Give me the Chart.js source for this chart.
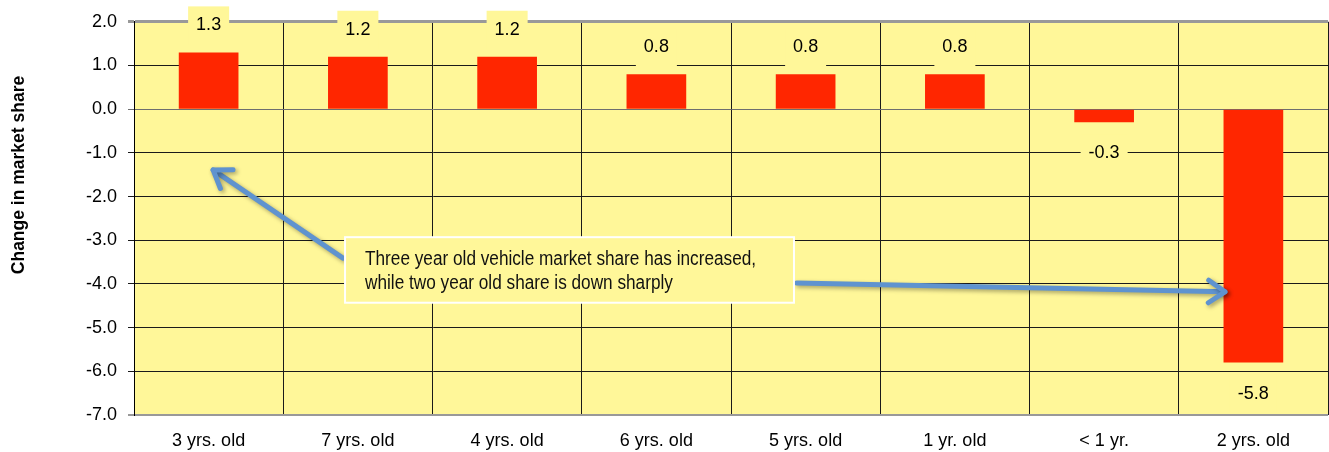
<!DOCTYPE html>
<html>
<head>
<meta charset="utf-8">
<script src="https://cdn.jsdelivr.net/npm/chart.js@4.4.1/dist/chart.umd.min.js"></script>
<style>
  html, body { margin: 0; padding: 0; background: #fff; }
  #wrap { width: 1329px; height: 452px; }
</style>
</head>
<body>
<div id="wrap"><canvas id="chart"></canvas></div>
<script>
// values
const categories = ['3 yrs. old', '7 yrs. old', '4 yrs. old', '6 yrs. old', '5 yrs. old', '1 yr. old', '< 1 yr.', '2 yrs. old'];
const shareChange = [1.3, 1.2, 1.2, 0.8, 0.8, 0.8, -0.3, -5.8];
const yTitle = 'Change in market share';
const noteLines = ['Three year old vehicle market share has increased,', 'while two year old share is down sharply'];

// note box and arrows, in data units (category index, share value)
const noteBox = { x0: 0.914, x1: 3.922, y0: -2.93, y1: -4.43 };
const arrows = [
    { from: [0.90, -3.41], to: [0.03, -1.39] },
    { from: [3.94, -3.98], to: [6.81, -4.18] }
];

const plotYellow = '#fff799';
const mainFont = '"Liberation Sans", Arial, sans-serif';

const backgroundPlugin = {
    id: 'plotBg',
    beforeDraw(chart) {
        const { ctx, chartArea: a } = chart;
        ctx.save();
        ctx.fillStyle = plotYellow;
        ctx.fillRect(a.left, a.top, a.right - a.left, a.bottom - a.top);
        ctx.restore();
    }
};

const labelPlugin = {
    id: 'barLabels',
    afterDatasetsDraw(chart) {
        const { ctx } = chart;
        const meta = chart.getDatasetMeta(0);
        ctx.save();
        ctx.font = '18px ' + mainFont;
        ctx.textAlign = 'center';
        ctx.textBaseline = 'middle';
        meta.data.forEach((bar, i) => {
            const v = shareChange[i];
            const txt = v.toFixed(1);
            const y = v >= 0 ? bar.y - 27 : bar.y + 31;
            const w = ctx.measureText(txt).width + 16;
            ctx.fillStyle = plotYellow;
            ctx.fillRect(bar.x - w / 2, y - 19, w, 38);
            ctx.fillStyle = '#000';
            ctx.fillText(txt, bar.x, y);
        });
        ctx.restore();
    }
};

function drawArrow(ctx, x1, y1, x2, y2) {
    const ang = Math.atan2(y2 - y1, x2 - x1);
    const arm = 20, spread = 0.6;
    ctx.beginPath();
    ctx.moveTo(x1, y1);
    ctx.lineTo(x2, y2);
    ctx.stroke();
    ctx.beginPath();
    ctx.moveTo(x2 - arm * Math.cos(ang - spread), y2 - arm * Math.sin(ang - spread));
    ctx.lineTo(x2, y2);
    ctx.lineTo(x2 - arm * Math.cos(ang + spread), y2 - arm * Math.sin(ang + spread));
    ctx.stroke();
}

const notePlugin = {
    id: 'note',
    afterDraw(chart) {
        const { ctx } = chart;
        const xs = chart.scales.x, ys = chart.scales.y;
        ctx.save();
        // arrows
        ctx.strokeStyle = '#5f93cf';
        ctx.lineWidth = 5;
        ctx.lineCap = 'round';
        ctx.lineJoin = 'round';
        ctx.shadowColor = 'rgba(0,0,0,0.35)';
        ctx.shadowBlur = 4;
        ctx.shadowOffsetX = 2;
        ctx.shadowOffsetY = 2;
        arrows.forEach(a => {
            drawArrow(ctx,
                xs.getPixelForValue(a.from[0]), ys.getPixelForValue(a.from[1]),
                xs.getPixelForValue(a.to[0]), ys.getPixelForValue(a.to[1]));
        });
        ctx.restore();

        // text box
        ctx.save();
        const bx0 = xs.getPixelForValue(noteBox.x0), bx1 = xs.getPixelForValue(noteBox.x1);
        const by0 = ys.getPixelForValue(noteBox.y0), by1 = ys.getPixelForValue(noteBox.y1);
        ctx.fillStyle = plotYellow;
        ctx.fillRect(bx0, by0, bx1 - bx0, by1 - by0);
        ctx.strokeStyle = '#ffffff';
        ctx.lineWidth = 2;
        ctx.strokeRect(bx0, by0, bx1 - bx0, by1 - by0);
        ctx.fillStyle = '#111';
        ctx.font = '20px ' + mainFont;
        ctx.textBaseline = 'middle';
        // the original uses a condensed face, squeeze the text sideways
        noteLines.forEach((line, i) => {
            ctx.save();
            ctx.translate(bx0 + 20, by0 + 22 + i * 24);
            ctx.scale(0.86, 1);
            ctx.fillText(line, 0, 0);
            ctx.restore();
        });
        ctx.restore();

        // y axis title
        ctx.save();
        ctx.translate(19, 175);
        ctx.rotate(-Math.PI / 2);
        ctx.font = 'bold 17.5px ' + mainFont;
        ctx.textAlign = 'center';
        ctx.textBaseline = 'middle';
        ctx.fillStyle = '#000';
        ctx.fillText(yTitle, 0, 0);
        ctx.restore();
    }
};

new Chart(document.getElementById('chart'), {
    type: 'bar',
    data: {
        labels: categories,
        datasets: [{
            data: shareChange,
            backgroundColor: '#ff2600',
            borderWidth: 0,
            categoryPercentage: 1,
            barPercentage: 0.4
        }]
    },
    options: {
        responsive: true,
        maintainAspectRatio: false,
        animation: false,
        layout: { padding: { top: 19, right: 1, left: 0, bottom: 0 } },
        plugins: {
            legend: { display: false },
            tooltip: { enabled: false }
        },
        scales: {
            x: {
                afterFit: s => { s.height = 37; },
                border: { display: false },
                grid: { color: '#1a1a1a', lineWidth: 1, drawTicks: false },
                ticks: {
                    color: '#000',
                    padding: 15,
                    maxRotation: 0,
                    autoSkip: false,
                    font: { family: mainFont, size: 18 }
                }
            },
            y: {
                min: -7,
                max: 2,
                afterFit: s => { s.width = 134; },
                border: { color: '#000', width: 1 },
                grid: {
                    tickLength: 6,
                    color: c => (c.tick && (c.tick.value === 2 || c.tick.value === -7)) ? '#999999'
                        : (c.tick && c.tick.value === 0 ? '#6e6e6e' : '#1a1a1a'),
                    lineWidth: c => (c.tick && c.tick.value === 2) ? 3
                        : (c.tick && c.tick.value === -7 ? 2 : 1)
                },
                ticks: {
                    stepSize: 1,
                    color: '#000',
                    padding: 11,
                    font: { family: mainFont, size: 18 },
                    callback: v => v.toFixed(1)
                }
            }
        }
    },
    plugins: [backgroundPlugin, labelPlugin, notePlugin]
});
</script>
</body>
</html>
